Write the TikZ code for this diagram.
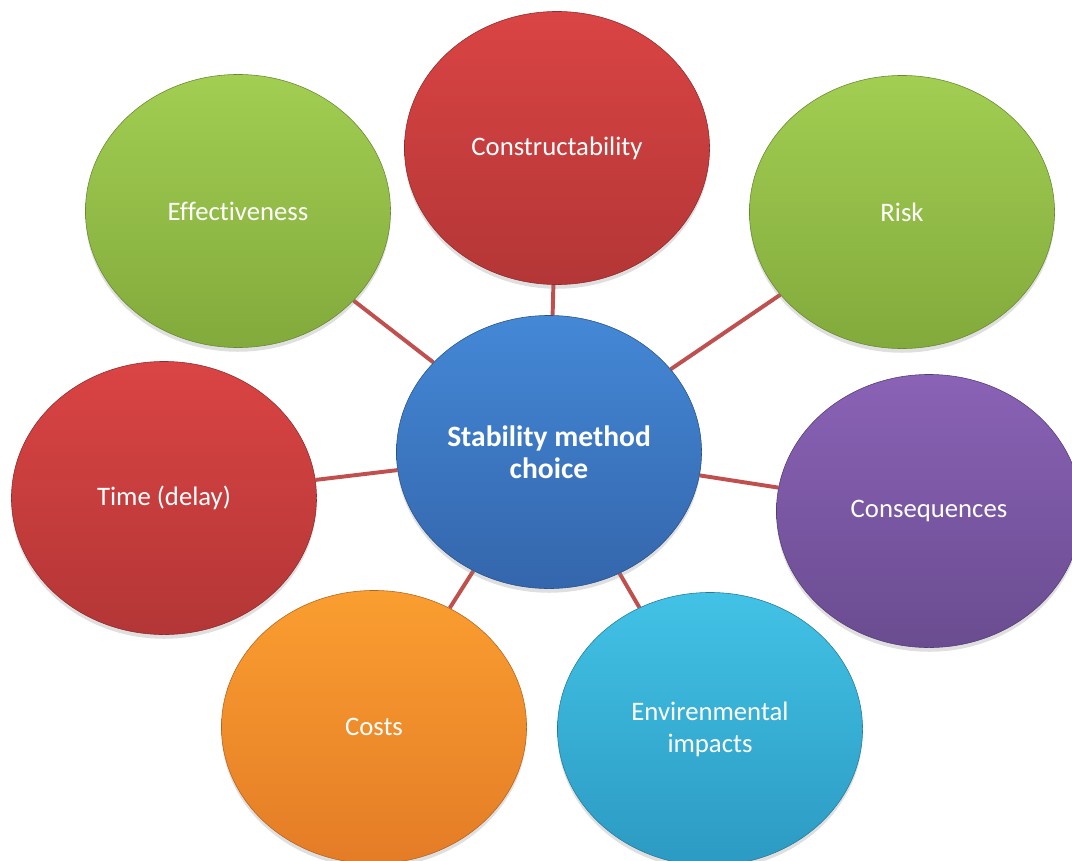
\documentclass[tikz,border=0pt]{standalone}
\usepackage{fontspec}
\setmainfont{Carlito}[Ligatures=NoCommon]
\usepackage{tikz}
\usetikzlibrary{shapes.geometric,backgrounds,shadows}
\usepackage{xcolor}
\definecolor{redtop}{RGB}{218,68,68}
\definecolor{redbot}{RGB}{180,54,54}
\definecolor{greentop}{RGB}{162,206,82}
\definecolor{greenbot}{RGB}{130,170,60}
\definecolor{bluetop}{RGB}{68,136,214}
\definecolor{bluebot}{RGB}{52,102,172}
\definecolor{purpletop}{RGB}{138,98,182}
\definecolor{purplebot}{RGB}{106,76,144}
\definecolor{orangetop}{RGB}{250,158,48}
\definecolor{orangebot}{RGB}{228,124,38}
\definecolor{cyantop}{RGB}{66,194,230}
\definecolor{cyanbot}{RGB}{44,154,194}
\definecolor{linkred}{RGB}{192,80,77}

\begin{document}
\begin{tikzpicture}[
  x=0.025cm, y=-0.025cm,
  bubble/.style={ellipse, minimum width=7.625cm, minimum height=6.825cm, inner sep=0pt,
                 text=white, align=center, font=\fontsize{19}{22.7}\selectfont,
                 drop shadow={opacity=0.25, shadow xshift=0pt, shadow yshift=-3pt}},
  hub/.style={bubble, font=\fontsize{21}{22.7}\selectfont\bfseries},
  fillred/.style={top color=redtop, bottom color=redbot, draw=redbot!80!black},
  fillgreen/.style={top color=greentop, bottom color=greenbot, draw=greenbot!80!black},
  fillblue/.style={top color=bluetop, bottom color=bluebot, draw=bluebot!80!black},
  fillpurple/.style={top color=purpletop, bottom color=purplebot, draw=purplebot!80!black},
  fillorange/.style={top color=orangetop, bottom color=orangebot, draw=orangebot!80!black},
  fillcyan/.style={top color=cyantop, bottom color=cyanbot, draw=cyanbot!80!black},
  link/.style={draw=linkred, line width=2.8pt}
]
\useasboundingbox (0,0) rectangle (1072,861);
\clip (0,0) rectangle (1072,861);

% ---- hub in the middle ----
\node[hub, fillblue] (choice) at (549,452) {Stability method\\choice};

% ---- surrounding factors ----
\node[bubble, fillred]    (constr) at (557,148) {Constructability};
\node[bubble, fillgreen]  (effect) at (238,211) {Effectiveness};
\node[bubble, fillgreen]  (risk)   at (902,212) {Risk};
\node[bubble, fillred]    (time)   at (164,498) {Time (delay)};
\node[bubble, fillpurple] (conseq) at (929,511) {Consequences};
\node[bubble, fillorange] (costs)  at (374,727) {Costs};
\node[bubble, fillcyan]   (enviro) at (710,729) {Envirenmental\\impacts};

% ---- spokes behind the bubbles ----
\begin{scope}[on background layer]
  \foreach \f in {constr,effect,risk,time,conseq,costs,enviro}
    \draw[link] (choice) -- (\f);
\end{scope}

\end{tikzpicture}
\end{document}
